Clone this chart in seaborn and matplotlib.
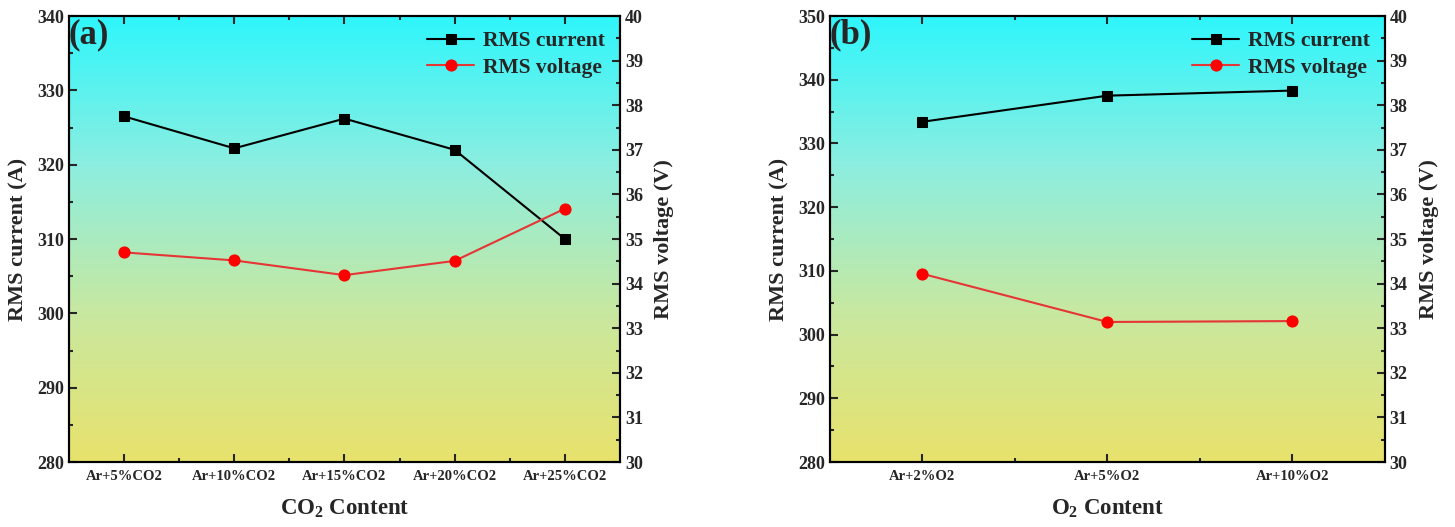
import numpy as np
import pandas as pd
import matplotlib
matplotlib.use('Agg')
import matplotlib.pyplot as plt
from matplotlib.colors import LinearSegmentedColormap
from matplotlib.ticker import MultipleLocator
import seaborn as sns

# panel (a): CO2 mixtures
co2_labels = ['Ar+5%CO2', 'Ar+10%CO2', 'Ar+15%CO2', 'Ar+20%CO2', 'Ar+25%CO2']
co2_current = [326.5, 322.2, 326.2, 322.0, 310.0]
co2_voltage = [34.70, 34.52, 34.19, 34.51, 35.68]

# panel (b): O2 mixtures
o2_labels = ['Ar+2%O2', 'Ar+5%O2', 'Ar+10%O2']
o2_current = [333.4, 337.5, 338.3]
o2_voltage = [34.22, 33.14, 33.16]

sns.set_theme(style='white')
plt.rcParams['font.family'] = ['Liberation Serif', 'DejaVu Serif']
plt.rcParams['font.weight'] = 'bold'
plt.rcParams['mathtext.fontset'] = 'custom'
plt.rcParams['mathtext.rm'] = 'Liberation Serif:bold'
plt.rcParams['mathtext.default'] = 'rm'

bg = LinearSegmentedColormap.from_list('bg', ['#2ef6fc', '#8ceee0', '#c8e8a0', '#e8e26c'])

fig = plt.figure(figsize=(14.55, 5.27), dpi=100)
ax1 = fig.add_axes([0.0474, 0.1233, 0.3787, 0.8463])
ax2 = fig.add_axes([0.5704, 0.1233, 0.3814, 0.8463])


def panel(ax, labels, current, voltage, ylim, letter, xlabel):
    n = len(labels)
    grad = np.linspace(0, 1, 256).reshape(-1, 1)
    ax.imshow(grad, cmap=bg, aspect='auto', extent=[0, 1, 0, 1],
              transform=ax.transAxes, origin='upper', zorder=0)
    df = pd.DataFrame({'gas': labels, 'current': current, 'voltage': voltage})
    sns.lineplot(data=df, x='gas', y='current', ax=ax, color='black', marker='s',
                 markersize=7, markeredgecolor='black', linewidth=1.5, sort=False,
                 label='RMS current', legend=False, zorder=3)
    ax.set_xlim(-0.5, n - 0.5)
    ax.set_ylim(*ylim)
    ax.yaxis.set_major_locator(MultipleLocator(10))
    ax.yaxis.set_minor_locator(MultipleLocator(5))
    ax.set_xticks(range(n))
    ax.set_xticks([i + 0.5 for i in range(n - 1)], minor=True)
    ax.set_xticklabels(labels, fontsize=10.5, fontweight='bold')
    ax.tick_params(axis='y', which='both', direction='in', left=True, labelsize=13)
    ax.tick_params(axis='x', which='both', direction='in', bottom=True, top=True, pad=6)
    ax.tick_params(which='major', length=6, width=1.5)
    ax.tick_params(which='minor', length=3, width=1.5)
    for lab in ax.get_yticklabels():
        lab.set_fontweight('bold')
    ax.set_ylabel('RMS current (A)', fontsize=16, fontweight='bold', labelpad=6)
    ax.set_xlabel(xlabel, fontsize=16.5, fontweight='bold', labelpad=10)
    for s in ax.spines.values():
        s.set_linewidth(1.5)
        s.set_color('black')
    ax.text(0.0, 0.995, letter, transform=ax.transAxes, fontsize=25,
            fontweight='bold', va='top', ha='left', zorder=5)

    axr = ax.twinx()
    sns.lineplot(data=df, x='gas', y='voltage', ax=axr, color='#e53535', marker='o',
                 markersize=8, markerfacecolor='red', markeredgecolor='red',
                 linewidth=1.5, sort=False, label='RMS voltage', legend=False, zorder=3)
    axr.set_xlim(-0.5, n - 0.5)
    axr.set_ylim(30, 40)
    axr.yaxis.set_major_locator(MultipleLocator(1))
    axr.yaxis.set_minor_locator(MultipleLocator(0.5))
    axr.tick_params(axis='y', which='both', direction='in', right=True, labelsize=13)
    axr.tick_params(which='major', length=6, width=1.5)
    axr.tick_params(which='minor', length=3, width=1.5)
    for lab in axr.get_yticklabels():
        lab.set_fontweight('bold')
    axr.set_ylabel('RMS voltage (V)', fontsize=16, fontweight='bold', labelpad=8)
    axr.grid(False)
    ax.grid(False)
    for s in axr.spines.values():
        s.set_linewidth(1.5)
        s.set_color('black')

    h1, l1 = ax.get_legend_handles_labels()
    h2, l2 = axr.get_legend_handles_labels()
    axr.legend(h1 + h2, l1 + l2, loc='upper right', frameon=False,
               prop={'size': 15.5, 'weight': 'bold'}, handlelength=2.2,
               handletextpad=0.4, borderaxespad=0.3, labelspacing=0.3)


panel(ax1, co2_labels, co2_current, co2_voltage, (280, 340), '(a)', 'CO$_2$ Content')
panel(ax2, o2_labels, o2_current, o2_voltage, (280, 350), '(b)', 'O$_2$ Content')

fig.savefig('out.png', dpi=100)
